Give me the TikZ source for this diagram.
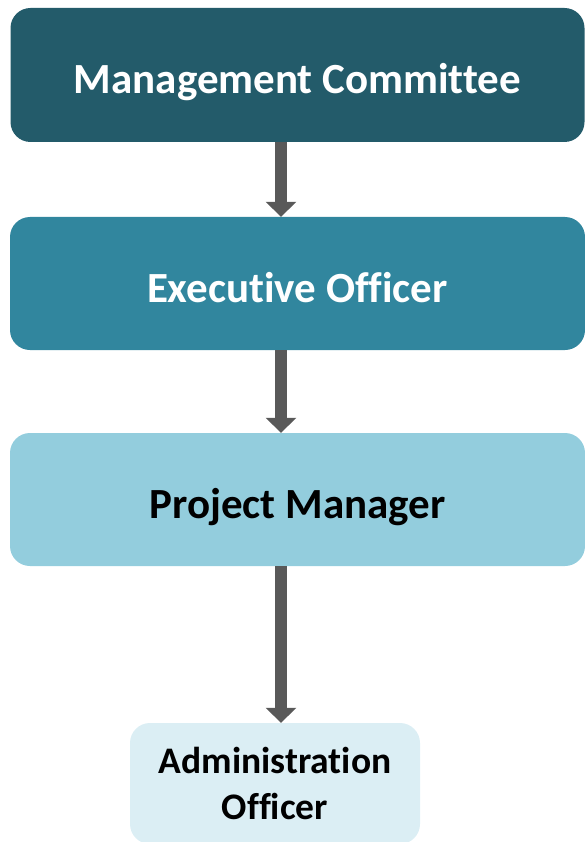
\documentclass[tikz,border=0pt]{standalone}
\usepackage{fontspec}
\setmainfont{Carlito}[Ligatures=NoCommon]
\usetikzlibrary{arrows.meta}
\definecolor{cdark}{RGB}{35,91,106}
\definecolor{cmid}{RGB}{49,134,158}
\definecolor{clight}{RGB}{147,205,221}
\definecolor{cpale}{RGB}{219,238,244}
\definecolor{carrow}{RGB}{89,89,89}
\begin{document}
\begin{tikzpicture}[x=1pt,y=-1pt,
  box/.style={rectangle,rounded corners=20pt,inner sep=0pt,align=center,text height=37pt,text depth=0pt,font=\fontsize{43}{50}\selectfont\bfseries},
  conn/.style={draw=carrow,line width=12pt,-{Triangle[width=30pt,length=15pt]}}]
\useasboundingbox (0,0) rectangle (585,842);
\node[box,fill=cdark,text=white,minimum width=574pt,minimum height=134pt] (mc) at (297.5,75) {Management Committee};
\node[box,fill=cmid,text=white,minimum width=575pt,minimum height=133pt] (eo) at (297.5,283.5) {Executive Officer};
\node[box,fill=clight,text=black,minimum width=575pt,minimum height=133pt] (pm) at (297.5,499.5) {Project Manager};
\node[rectangle,rounded corners=20pt,inner sep=0pt,align=center,text depth=0pt,fill=cpale,text=black,minimum width=290pt,minimum height=121pt,font=\fontsize{37.5}{46}\selectfont\bfseries] (ao) at (275,783.5) {Administration\\Officer};
\coordinate (ax) at (281,0);
\draw[conn] (mc.south -| ax) -- (eo.north -| ax);
\draw[conn] (eo.south -| ax) -- (pm.north -| ax);
\draw[conn] (pm.south -| ax) -- (ao.north -| ax);
\end{tikzpicture}
\end{document}
